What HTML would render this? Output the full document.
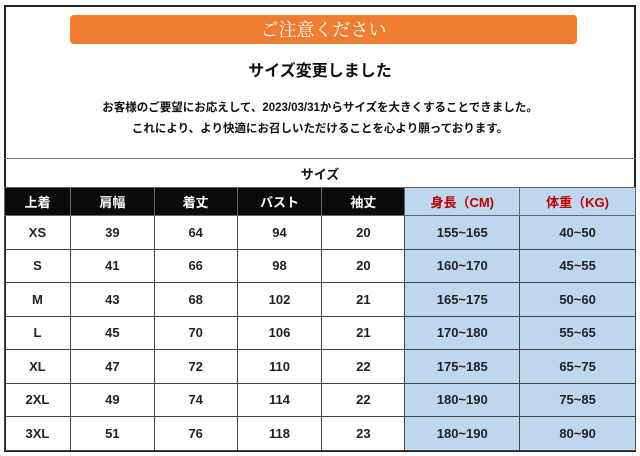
<!DOCTYPE html>
<html><head><meta charset="utf-8"><style>
*{margin:0;padding:0;box-sizing:border-box}
body{width:640px;height:456px;background:#fff;font-family:"Liberation Sans","Noto Sans CJK JP",sans-serif;position:relative;overflow:hidden}
.frame{position:absolute;left:4px;top:5px;width:632px;height:447px;border:2px solid #222}
.orange{position:absolute;left:70px;top:15px;width:507px;height:29px;background:#ee7d31;border-radius:4px;color:#fff;text-align:center;font:18px/29px "Noto Serif CJK SC",serif}
.t{position:absolute;left:0;width:640px;text-align:center;color:#111;font-weight:bold}
table{position:absolute;left:4px;top:187px;border-collapse:collapse;width:632px}
td{border:1px solid #444;text-align:center;font-size:13px;font-weight:bold;color:#222;height:33.5px;padding:0}
tr.h td{background:#0b0b0b;color:#fff;height:28px;font-size:13px;border-color:#666}
tr.h td.r{background:#bdd7ee;color:#c00000}
td.b{background:#bdd7ee}
</style></head><body>
<div class="frame"></div>
<div class="orange">ご注意ください</div>
<div class="t" style="top:57px;font-size:16px">サイズ変更しました</div>
<div class="t" style="top:99px;font-size:11.5px">お客様のご要望にお応えして、2023/03/31からサイズを大きくすることできました。</div>
<div class="t" style="top:120px;font-size:11.5px">これにより、より快適にお召しいただけることを心より願っております。</div>
<div style="position:absolute;left:4px;top:158px;width:632px;height:1px;background:#777"></div>
<div class="t" style="top:164px;font-size:13px">サイズ</div>
<table>
<colgroup><col style="width:66px"><col style="width:84px"><col style="width:83px"><col style="width:85px"><col style="width:83px"><col style="width:115px"><col style="width:116px"></colgroup>
<tr class="h"><td>上着</td><td>肩幅</td><td>着丈</td><td>バスト</td><td>袖丈</td><td class="r">身長（CM)</td><td class="r">体重（KG)</td></tr>
<tr><td>XS</td><td>39</td><td>64</td><td>94</td><td>20</td><td class="b">155~165</td><td class="b">40~50</td></tr>
<tr><td>S</td><td>41</td><td>66</td><td>98</td><td>20</td><td class="b">160~170</td><td class="b">45~55</td></tr>
<tr><td>M</td><td>43</td><td>68</td><td>102</td><td>21</td><td class="b">165~175</td><td class="b">50~60</td></tr>
<tr><td>L</td><td>45</td><td>70</td><td>106</td><td>21</td><td class="b">170~180</td><td class="b">55~65</td></tr>
<tr><td>XL</td><td>47</td><td>72</td><td>110</td><td>22</td><td class="b">175~185</td><td class="b">65~75</td></tr>
<tr><td>2XL</td><td>49</td><td>74</td><td>114</td><td>22</td><td class="b">180~190</td><td class="b">75~85</td></tr>
<tr><td>3XL</td><td>51</td><td>76</td><td>118</td><td>23</td><td class="b">180~190</td><td class="b">80~90</td></tr>
</table>
</body></html>
